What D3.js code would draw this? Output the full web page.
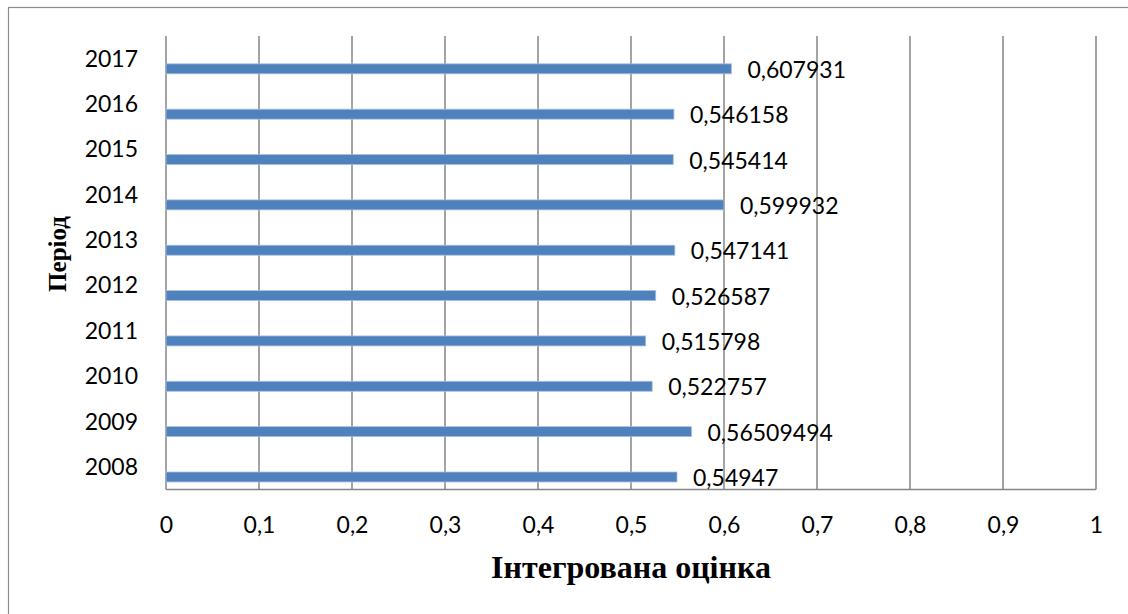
<!DOCTYPE html>
<html>
<head>
<meta charset="utf-8">
<script src="https://cdn.jsdelivr.net/npm/d3@7"></script>
<style>
  html, body { margin: 0; padding: 0; background: #fff; }
  svg { display: block; }
</style>
</head>
<body>
<svg id="chart" width="1128" height="614"></svg>
<script>
// Integrated assessment by year
const years = ["2008", "2009", "2010", "2011", "2012", "2013", "2014", "2015", "2016", "2017"];
const values = [0.54947, 0.56509494, 0.522757, 0.515798, 0.526587, 0.547141, 0.599932, 0.545414, 0.546158, 0.607931];
const valueLabels = ["0,54947", "0,56509494", "0,522757", "0,515798", "0,526587", "0,547141", "0,599932", "0,545414", "0,546158", "0,607931"];
const xTicks = [0, 0.1, 0.2, 0.3, 0.4, 0.5, 0.6, 0.7, 0.8, 0.9, 1];
const xTitle = "Інтегрована оцінка";
const yTitle = "Період";

const W = 1128, H = 614;
const plot = { left: 166, right: 1096, top: 36, bottom: 489.5 };
const numFont = "Lato, 'Open Sans', sans-serif";
const titleFont = "'Liberation Serif', 'DejaVu Serif', serif";
const gridColor = "#868686";
const barColor = "#4f81bd";

const svg = d3.select("#chart");

// outer chart frame
svg.append("rect")
  .attr("x", 8.5).attr("y", 7.5)
  .attr("width", W + 20).attr("height", H + 20)
  .attr("fill", "#fff")
  .attr("stroke", "#8c8c8c").attr("stroke-width", 1.2);

const x = d3.scaleLinear().domain([0, 1]).range([plot.left, plot.right]);
const y = d3.scaleBand().domain(years.slice().reverse()).range([plot.top, plot.bottom]).padding(0);
const step = y.step();

// vertical gridlines
svg.append("g")
  .selectAll("line")
  .data(xTicks)
  .join("line")
  .attr("x1", d => x(d)).attr("x2", d => x(d))
  .attr("y1", plot.top).attr("y2", plot.bottom)
  .attr("stroke", gridColor).attr("stroke-width", 1.5);

// bottom axis line
svg.append("line")
  .attr("x1", plot.left).attr("x2", plot.right)
  .attr("y1", plot.bottom).attr("y2", plot.bottom)
  .attr("stroke", gridColor).attr("stroke-width", 1.5);

// x tick labels
const xAxis = d3.axisBottom(x)
  .tickValues(xTicks)
  .tickSize(0)
  .tickPadding(0)
  .tickFormat(d => String(d).replace(".", ","));
const gx = svg.append("g")
  .attr("transform", `translate(0,${plot.bottom})`)
  .call(xAxis);
gx.select(".domain").remove();
gx.selectAll("text")
  .attr("y", 35)
  .attr("dy", "0.35em")
  .attr("font-family", numFont)
  .attr("font-size", 23)
  .attr("fill", "#000");

// y tick labels
const yAxis = d3.axisLeft(y).tickSize(0).tickPadding(0);
const gy = svg.append("g")
  .attr("transform", `translate(${plot.left},0)`)
  .call(yAxis);
gy.select(".domain").remove();
gy.selectAll("text")
  .attr("x", -28)
  .attr("dy", "0.35em")
  .attr("font-family", numFont)
  .attr("font-size", 23)
  .attr("fill", "#000");

const data = years.map((yr, i) => ({ year: yr, value: values[i], label: valueLabels[i] }));
const barOffset = step * 0.614;
const barH = step * 0.22;

// bars
svg.append("g")
  .selectAll("rect")
  .data(data)
  .join("rect")
  .attr("x", x(0))
  .attr("y", d => y(d.year) + barOffset)
  .attr("width", d => x(d.value) - x(0))
  .attr("height", barH)
  .attr("fill", barColor)
  .attr("stroke", "#a7bfde")
  .attr("stroke-width", 0.8);

// value labels
svg.append("g")
  .selectAll("text")
  .data(data)
  .join("text")
  .attr("x", d => x(d.value) + 16)
  .attr("y", d => y(d.year) + barOffset + barH / 2 + 1)
  .attr("dy", "0.35em")
  .attr("font-family", numFont)
  .attr("font-size", 23)
  .attr("fill", "#000")
  .text(d => d.label);

// axis titles
svg.append("text")
  .attr("x", (plot.left + plot.right) / 2)
  .attr("y", 578)
  .attr("text-anchor", "middle")
  .attr("font-family", titleFont)
  .attr("font-weight", "bold")
  .attr("font-size", 32)
  .attr("fill", "#000")
  .text(xTitle);

svg.append("text")
  .attr("transform", `translate(66,${254}) rotate(-90)`)
  .attr("text-anchor", "middle")
  .attr("font-family", titleFont)
  .attr("font-weight", "bold")
  .attr("font-size", 25)
  .attr("fill", "#000")
  .text(yTitle);
</script>
</body>
</html>
